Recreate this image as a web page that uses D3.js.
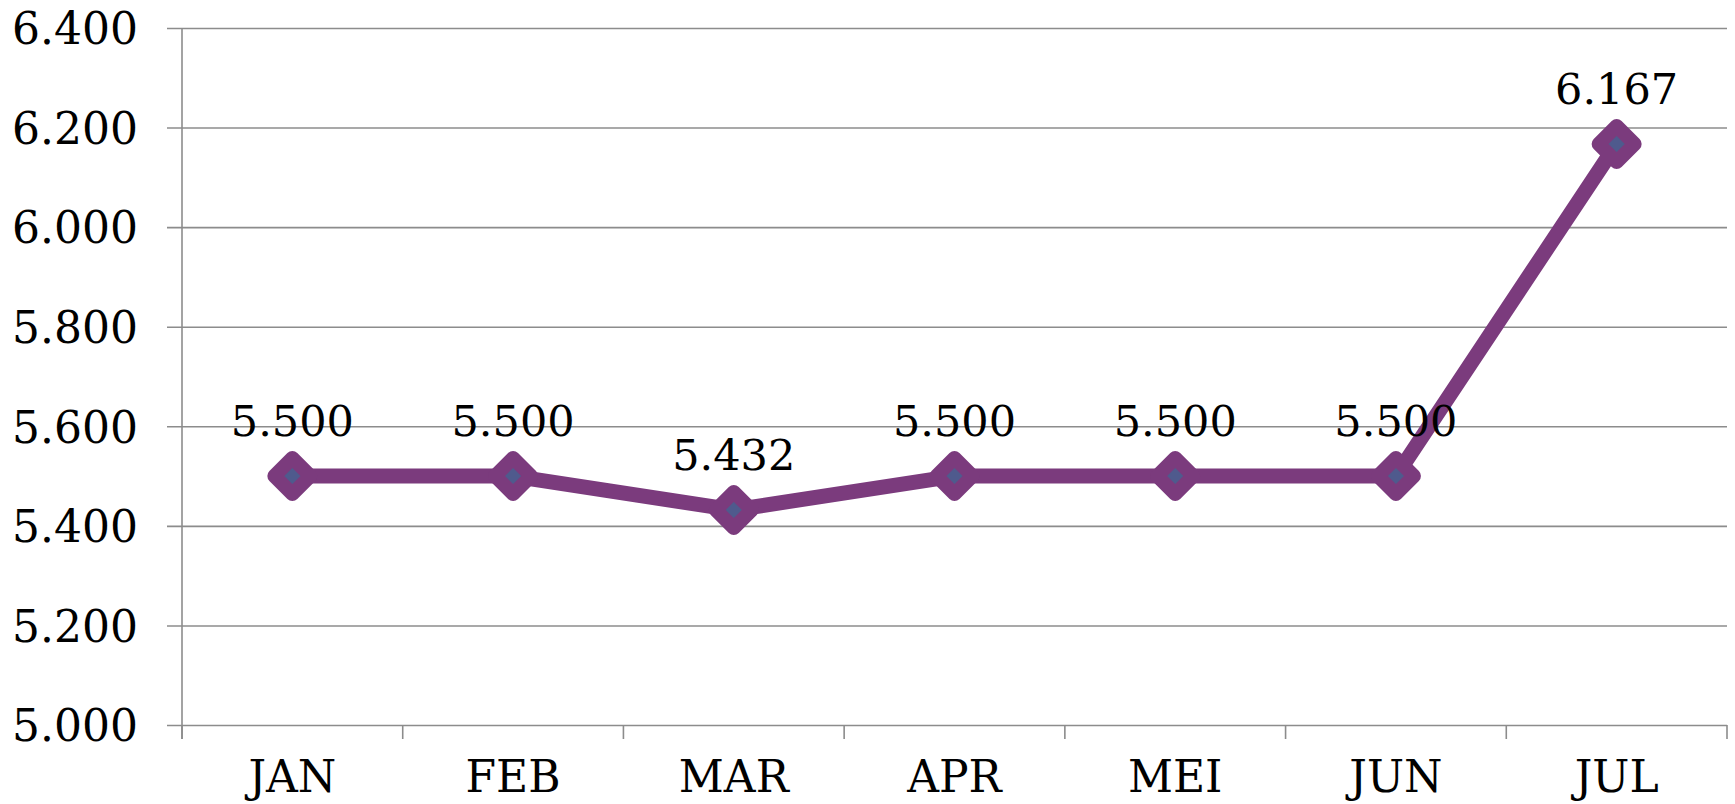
<!DOCTYPE html>
<html>
<head>
<meta charset="utf-8">
<script src="https://d3js.org/d3.v7.min.js"></script>
<style>
  html, body { margin: 0; padding: 0; background: #fff; }
  svg { display: block; }
</style>
</head>
<body>
<div id="chart"></div>
<script>
// data
const months = ["JAN", "FEB", "MAR", "APR", "MEI", "JUN", "JUL"];
const values = [5500, 5500, 5432, 5500, 5500, 5500, 6167];
const yTicks = [5000, 5200, 5400, 5600, 5800, 6000, 6200, 6400];

const width = 1735, height = 804;
const margin = {top: 28, right: 8, bottom: 79, left: 182};
const fontFamily = "'DejaVu Serif', Georgia, serif";

const lineColor = "#7b3b7d";
const markerFill = "#4f5a8d";
const gridColor = "#8c8c8c";

const locale = d3.formatLocale({decimal: ",", thousands: ".", grouping: [3], currency: ["", ""]});
const fmt = locale.format(",.0f");

const svg = d3.select("#chart").append("svg")
    .attr("width", width)
    .attr("height", height);

const innerW = width - margin.left - margin.right;
const innerH = height - margin.top - margin.bottom;

const g = svg.append("g")
    .attr("transform", "translate(" + margin.left + "," + margin.top + ")");

const x = d3.scaleBand()
    .domain(months)
    .range([0, innerW]);

const y = d3.scaleLinear()
    .domain([5000, 6400])
    .range([innerH, 0]);

// horizontal gridlines + y labels
const yAxis = g.append("g")
    .call(d3.axisLeft(y)
        .tickValues(yTicks)
        .tickSize(-(innerW + 15))
        .tickPadding(44)
        .tickFormat(fmt));
yAxis.select(".domain").remove();
yAxis.selectAll(".tick line")
    .attr("x1", -15)
    .attr("x2", innerW)
    .attr("stroke", gridColor)
    .attr("stroke-width", 1.6);
yAxis.selectAll(".tick text")
    .attr("font-family", fontFamily)
    .attr("font-size", 44)
    .attr("fill", "#000")
    .attr("dy", "0.36em");

// vertical axis line
g.append("line")
    .attr("x1", 0).attr("x2", 0)
    .attr("y1", 0).attr("y2", innerH + 14)
    .attr("stroke", gridColor)
    .attr("stroke-width", 1.6);

// category boundary ticks
const boundaries = months.map(m => x(m)).concat([innerW]);
g.selectAll(".btick")
    .data(boundaries)
    .enter()
    .append("line")
    .attr("class", "btick")
    .attr("x1", d => d).attr("x2", d => d)
    .attr("y1", innerH).attr("y2", innerH + 14)
    .attr("stroke", gridColor)
    .attr("stroke-width", 1.6);

// x labels
g.selectAll(".xlabel")
    .data(months)
    .enter()
    .append("text")
    .attr("class", "xlabel")
    .attr("x", d => x(d) + x.bandwidth() / 2)
    .attr("y", innerH + 67)
    .attr("text-anchor", "middle")
    .attr("font-family", fontFamily)
    .attr("font-size", 44)
    .attr("fill", "#000")
    .text(d => d);

// line
const pts = months.map((m, i) => ({m: m, v: values[i]}));
const line = d3.line()
    .x(d => x(d.m) + x.bandwidth() / 2)
    .y(d => y(d.v));

g.append("path")
    .datum(pts)
    .attr("d", line)
    .attr("fill", "none")
    .attr("stroke", lineColor)
    .attr("stroke-width", 15)
    .attr("stroke-linejoin", "round");

// markers
const s = 18;
g.selectAll(".marker")
    .data(pts)
    .enter()
    .append("path")
    .attr("class", "marker")
    .attr("transform", d => "translate(" + (x(d.m) + x.bandwidth() / 2) + "," + y(d.v) + ")")
    .attr("d", "M0," + (-s) + "L" + s + ",0L0," + s + "L" + (-s) + ",0Z")
    .attr("fill", markerFill)
    .attr("stroke", lineColor)
    .attr("stroke-width", 14)
    .attr("stroke-linejoin", "round");

// data labels
g.selectAll(".dlabel")
    .data(pts)
    .enter()
    .append("text")
    .attr("class", "dlabel")
    .attr("x", d => x(d.m) + x.bandwidth() / 2)
    .attr("y", d => y(d.v) - 40)
    .attr("text-anchor", "middle")
    .attr("font-family", fontFamily)
    .attr("font-size", 43)
    .attr("fill", "#000")
    .text(d => fmt(d.v));
</script>
</body>
</html>
